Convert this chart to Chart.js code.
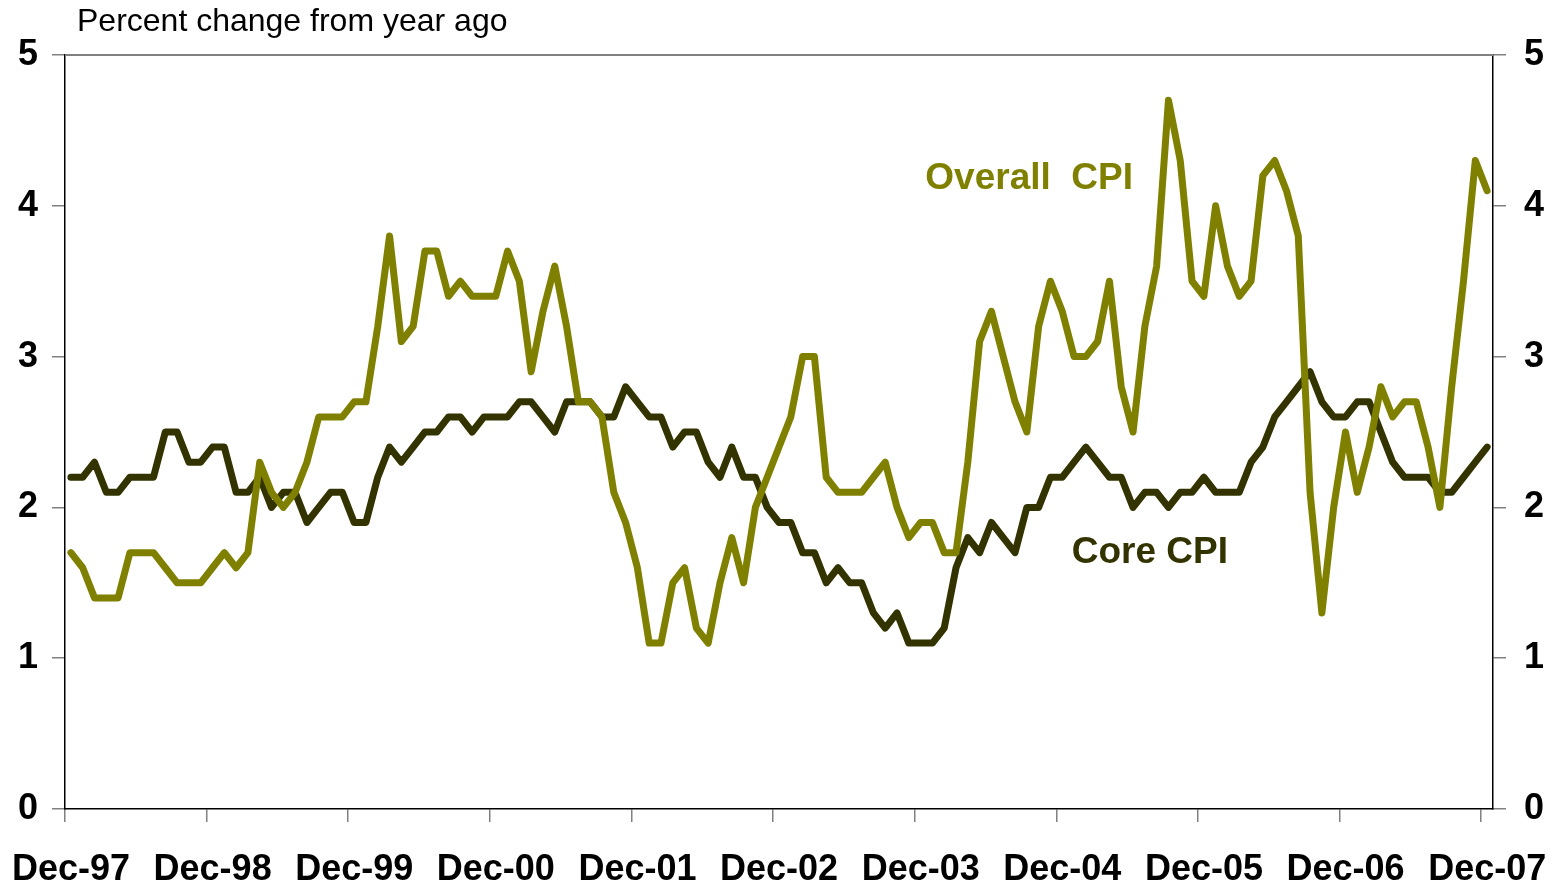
<!DOCTYPE html>
<html>
<head>
<meta charset="utf-8">
<title>Overall and Core CPI</title>
<script src="https://cdn.jsdelivr.net/npm/chart.js@4/dist/chart.umd.min.js"></script>
<style>
	html, body { margin: 0; padding: 0; background: #fff; }
	#wrap { width: 1562px; height: 885px; }
</style>
</head>
<body>
<div id="wrap"><canvas id="cpiChart" width="1562" height="885"></canvas></div>
<script>
// monthly, Dec-97 .. Dec-07, percent change from year ago
const tickLabels = ['Dec-97', 'Dec-98', 'Dec-99', 'Dec-00', 'Dec-01', 'Dec-02', 'Dec-03', 'Dec-04', 'Dec-05', 'Dec-06', 'Dec-07'];
const overallCpi = [1.7,
	1.6, 1.4, 1.4, 1.4, 1.7, 1.7, 1.7, 1.6, 1.5, 1.5, 1.5, 1.6,
	1.7, 1.6, 1.7, 2.3, 2.1, 2.0, 2.1, 2.3, 2.6, 2.6, 2.6, 2.7,
	2.7, 3.2, 3.8, 3.1, 3.2, 3.7, 3.7, 3.4, 3.5, 3.4, 3.4, 3.4,
	3.7, 3.5, 2.9, 3.3, 3.6, 3.2, 2.7, 2.7, 2.6, 2.1, 1.9, 1.6,
	1.1, 1.1, 1.5, 1.6, 1.2, 1.1, 1.5, 1.8, 1.5, 2.0, 2.2, 2.4,
	2.6, 3.0, 3.0, 2.2, 2.1, 2.1, 2.1, 2.2, 2.3, 2.0, 1.8, 1.9,
	1.9, 1.7, 1.7, 2.3, 3.1, 3.3, 3.0, 2.7, 2.5, 3.2, 3.5, 3.3,
	3.0, 3.0, 3.1, 3.5, 2.8, 2.5, 3.2, 3.6, 4.7, 4.3, 3.5, 3.4,
	4.0, 3.6, 3.4, 3.5, 4.2, 4.3, 4.1, 3.8, 2.1, 1.3, 2.0, 2.5,
	2.1, 2.4, 2.8, 2.6, 2.7, 2.7, 2.4, 2.0, 2.8, 3.5, 4.3, 4.1];
const coreCpi = [2.2,
	2.2, 2.3, 2.1, 2.1, 2.2, 2.2, 2.2, 2.5, 2.5, 2.3, 2.3, 2.4,
	2.4, 2.1, 2.1, 2.2, 2.0, 2.1, 2.1, 1.9, 2.0, 2.1, 2.1, 1.9,
	1.9, 2.2, 2.4, 2.3, 2.4, 2.5, 2.5, 2.6, 2.6, 2.5, 2.6, 2.6,
	2.6, 2.7, 2.7, 2.6, 2.5, 2.7, 2.7, 2.7, 2.6, 2.6, 2.8, 2.7,
	2.6, 2.6, 2.4, 2.5, 2.5, 2.3, 2.2, 2.4, 2.2, 2.2, 2.0, 1.9,
	1.9, 1.7, 1.7, 1.5, 1.6, 1.5, 1.5, 1.3, 1.2, 1.3, 1.1, 1.1,
	1.1, 1.2, 1.6, 1.8, 1.7, 1.9, 1.8, 1.7, 2.0, 2.0, 2.2, 2.2,
	2.3, 2.4, 2.3, 2.2, 2.2, 2.0, 2.1, 2.1, 2.0, 2.1, 2.1, 2.2,
	2.1, 2.1, 2.1, 2.3, 2.4, 2.6, 2.7, 2.8, 2.9, 2.7, 2.6, 2.6,
	2.7, 2.7, 2.5, 2.3, 2.2, 2.2, 2.2, 2.1, 2.1, 2.2, 2.3, 2.4];

const FONT = '"Liberation Sans", Arial, sans-serif';
const OLIVE = '#808000';
const DARK = '#333300';

// points sit mid-month on a month-index axis
const toPoints = (arr) => arr.map((v, i) => ({ x: i + 0.5, y: v }));

const textPlugin = {
	id: 'cpiText',
	afterDraw(chart) {
		const { ctx, chartArea, scales } = chart;
		ctx.save();
		ctx.strokeStyle = '#808080';
		ctx.lineWidth = 2;
		ctx.beginPath();
		ctx.moveTo(chartArea.left, chartArea.top);
		ctx.lineTo(chartArea.right, chartArea.top);
		ctx.stroke();

		ctx.textBaseline = 'middle';
		ctx.textAlign = 'left';
		ctx.fillStyle = '#000';
		ctx.font = '32px ' + FONT;
		ctx.fillText('Percent change from year ago', chartArea.left + 12, 22);

		ctx.font = 'bold 37px ' + FONT;
		ctx.fillStyle = OLIVE;
		ctx.fillText('Overall  CPI', scales.x.getPixelForValue(72.9), scales.y.getPixelForValue(4.18));
		ctx.fillStyle = DARK;
		ctx.fillText('Core CPI', scales.x.getPixelForValue(85.3), scales.y.getPixelForValue(1.7));
		ctx.restore();
	}
};

const yAxis = (position, pad, width) => ({
	position: position,
	min: 0,
	max: 5,
	ticks: {
		stepSize: 1,
		padding: pad,
		color: '#000',
		font: { family: FONT, size: 36, weight: 'bold' }
	},
	grid: { drawOnChartArea: false, tickLength: 13, color: '#808080', lineWidth: 1.5 },
	border: { color: '#000', width: 1.5 },
	afterFit: (scale) => { scale.width = width; }
});

const ctx = document.getElementById('cpiChart').getContext('2d');
const cpiChart = new Chart(ctx, {
	type: 'line',
	data: {
		datasets: [{
			label: 'Overall CPI',
			data: toPoints(overallCpi),
			borderColor: OLIVE,
			borderWidth: 7,
			pointRadius: 0,
			borderJoinStyle: 'round',
			borderCapStyle: 'round',
			tension: 0
		}, {
			label: 'Core CPI',
			data: toPoints(coreCpi),
			borderColor: DARK,
			borderWidth: 7,
			pointRadius: 0,
			borderJoinStyle: 'round',
			borderCapStyle: 'round',
			tension: 0
		}]
	},
	options: {
		responsive: false,
		animation: false,
		layout: { padding: { top: 55, left: 0, right: 0, bottom: 0 } },
		plugins: {
			legend: { display: false },
			tooltip: { enabled: false }
		},
		scales: {
			x: {
				type: 'linear',
				min: 0,
				max: 121,
				ticks: {
					stepSize: 12,
					includeBounds: false,
					autoSkip: false,
					maxRotation: 0,
					padding: 26,
					labelOffset: 6,
					color: '#000',
					font: { family: FONT, size: 36, weight: 'bold' },
					callback: (value) => tickLabels[value / 12]
				},
				afterBuildTicks: (scale) => {
					scale.ticks = scale.ticks.filter(t => t.value % 12 === 0);
				},
				grid: { drawOnChartArea: false, tickLength: 13, color: '#808080', lineWidth: 1.5 },
				border: { color: '#000', width: 1.5 },
				afterFit: (scale) => {
					scale.height = 76;
					scale.paddingLeft = 0;
					scale.paddingRight = 0;
				}
			},
			y: yAxis('left', 14, 65),
			y2: yAxis('right', 18, 69)
		}
	},
	plugins: [textPlugin]
});
</script>
</body>
</html>
